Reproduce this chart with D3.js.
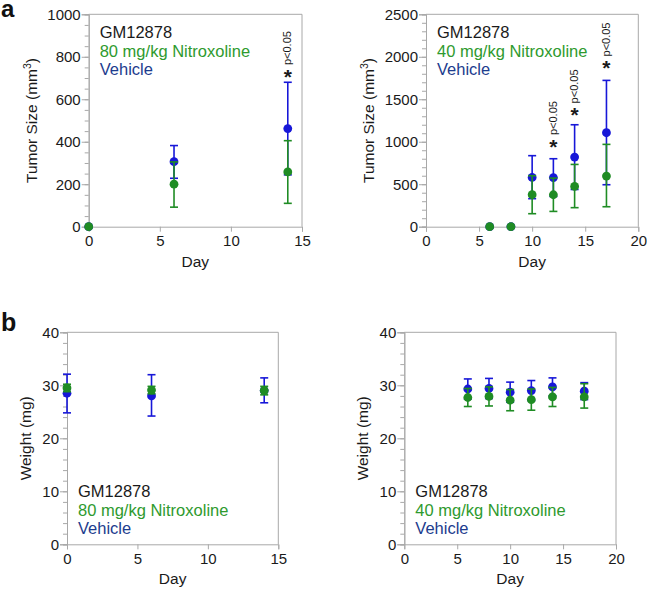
<!DOCTYPE html>
<html>
<head>
<meta charset="utf-8">
<script src="https://cdn.jsdelivr.net/npm/d3@7"></script>
<style>
  body { margin: 0; background: #fff; }
  svg { font-family: "Liberation Sans", Arial, sans-serif; }
</style>
</head>
<body>
<div id="chart"></div>
<script>
// ---- data ----
// a, left: 80 mg/kg, tumor size
const tumorDays80 = [0, 6, 14];
const vehTumor80 = [0, 306, 462];
const vehTumor80Lo = [0, 228, 244];
const vehTumor80Hi = [0, 382, 680];
const nitTumor80 = [0, 200, 258];
const nitTumor80Lo = [0, 92, 110];
const nitTumor80Hi = [0, 305, 405];
const starDays80 = [14];
const starVals80 = [728];

// a, right: 40 mg/kg, tumor size
const tumorDays40 = [6, 8, 10, 12, 14, 17];
const vehTumor40 = [0, 0, 580, 578, 819, 1106];
const vehTumor40Lo = [0, 0, 330, 356, 438, 494];
const vehTumor40Hi = [0, 0, 836, 800, 1200, 1722];
const nitTumor40 = [0, 0, 377, 376, 474, 596];
const nitTumor40Lo = [0, 0, 153, 180, 224, 235];
const nitTumor40Hi = [0, 0, 600, 572, 733, 969];
const starDays40 = [12, 14, 17];
const starVals40 = [996, 1369, 1921];

// b, left: 80 mg/kg, weight
const weightDays80 = [0, 6, 14];
const vehWeight80 = [28.5, 28.0, 29.0];
const vehWeight80Lo = [24.8, 24.2, 26.7];
const vehWeight80Hi = [32.1, 32.0, 31.4];
const nitWeight80 = [29.5, 29.1, 29.0];
const nitWeight80Lo = [28.8, 28.4, 28.2];
const nitWeight80Hi = [30.2, 29.8, 29.8];

// b, right: 40 mg/kg, weight
const weightDays40 = [6, 8, 10, 12, 14, 17];
const vehWeight40 = [29.3, 29.4, 28.7, 29.0, 29.7, 28.9];
const vehWeight40Lo = [27.4, 27.5, 26.8, 27.1, 28.0, 27.3];
const vehWeight40Hi = [31.2, 31.3, 30.6, 30.9, 31.4, 30.5];
const nitWeight40 = [27.7, 27.9, 27.2, 27.3, 27.8, 27.8];
const nitWeight40Lo = [26.0, 26.1, 25.2, 25.3, 26.0, 25.7];
const nitWeight40Hi = [29.4, 29.7, 29.2, 29.3, 29.6, 30.3];

const legendLines80 = ["GM12878", "80 mg/kg Nitroxoline", "Vehicle"];
const legendLines40 = ["GM12878", "40 mg/kg Nitroxoline", "Vehicle"];

const blue = "#1717d8",
    green = "#1f8c24",
    axisGrey = "#a8a8a8",
    textCol = "#1a1a1a",
    legendCols = [textCol, "#2e9a2e", "#1d3c8e"];

let svg = d3.select("#chart").append("svg")
    .attr("width", 647)
    .attr("height", 590);

function zip(days, mean, lo, hi) {
    return days.map(function (d, i) {
        return { day: d, v: mean[i], lo: lo[i], hi: hi[i] };
    });
}

function panel(opt) {
    let g = svg.append("g");
    let x = d3.scaleLinear().domain(opt.xDomain).range([opt.left, opt.right]);
    let y = d3.scaleLinear().domain(opt.yDomain).range([opt.bottom, opt.top]);

    // frame top + right
    g.append("path")
        .attr("d", "M" + opt.left + "," + opt.top + "H" + opt.right + "V" + opt.bottom)
        .attr("fill", "none")
        .attr("stroke", axisGrey);

    // y axis: minor ticks then major
    let yMinor = d3.axisLeft(y)
        .tickValues(d3.range(opt.yDomain[0], opt.yDomain[1] + 0.001, opt.yMinor))
        .tickSize(4).tickFormat("");
    g.append("g").attr("transform", "translate(" + opt.left + ",0)").call(yMinor);

    let yAxis = d3.axisLeft(y)
        .tickValues(d3.range(opt.yDomain[0], opt.yDomain[1] + 0.001, opt.yMajor))
        .tickFormat(d3.format("d"))
        .tickSize(7).tickPadding(1);
    g.append("g").attr("transform", "translate(" + opt.left + ",0)").call(yAxis);

    let xAxis = d3.axisBottom(x)
        .tickValues(d3.range(opt.xDomain[0], opt.xDomain[1] + 0.001, 5))
        .tickFormat(d3.format("d"))
        .tickSize(5).tickPadding(4);
    g.append("g").attr("transform", "translate(0," + opt.bottom + ")").call(xAxis);

    g.selectAll(".domain, .tick line").attr("stroke", axisGrey);
    g.selectAll(".tick text")
        .attr("font-size", "15px")
        .attr("fill", textCol)
        .attr("font-family", "Liberation Sans, Arial, sans-serif");

    // axis titles
    g.append("text")
        .attr("x", (opt.left + opt.right) / 2)
        .attr("y", opt.bottom + 40)
        .attr("text-anchor", "middle")
        .attr("font-size", "15.5px")
        .attr("fill", textCol)
        .text("Day");

    let yt = g.append("text")
        .attr("transform", "translate(" + (opt.left - opt.yTitleOff) + "," + ((opt.top + opt.bottom) / 2) + ") rotate(-90)")
        .attr("text-anchor", "middle")
        .attr("font-size", "15.5px")
        .attr("fill", textCol);
    yt.append("tspan").text(opt.yTitle);
    if (opt.yTitleSup) {
        yt.append("tspan").attr("dy", -6).attr("font-size", "10.5px").text(opt.yTitleSup);
        yt.append("tspan").attr("dy", 6).text(")");
    }

    // legend
    opt.legend.forEach(function (t, i) {
        g.append("text")
            .attr("x", opt.left + 11)
            .attr("y", opt.legendY + i * 18.5)
            .attr("font-size", "16.5px")
            .attr("fill", legendCols[i])
            .text(t);
    });

    // series: vehicle first, nitroxoline on top
    [[opt.vehicle, blue], [opt.drug, green]].forEach(function (s) {
        let data = s[0], col = s[1];
        let bars = g.append("g").selectAll("g")
            .data(data.filter(function (d) { return d.hi > d.lo; }))
            .enter().append("g");
        bars.append("line")
            .attr("x1", function (d) { return x(d.day); })
            .attr("x2", function (d) { return x(d.day); })
            .attr("y1", function (d) { return y(d.lo); })
            .attr("y2", function (d) { return y(d.hi); })
            .attr("stroke", col).attr("stroke-width", 1.6);
        ["lo", "hi"].forEach(function (k) {
            bars.append("line")
                .attr("x1", function (d) { return x(d.day) - 4; })
                .attr("x2", function (d) { return x(d.day) + 4; })
                .attr("y1", function (d) { return y(d[k]); })
                .attr("y2", function (d) { return y(d[k]); })
                .attr("stroke", col).attr("stroke-width", 1.6);
        });
        g.append("g").selectAll("circle")
            .data(data)
            .enter().append("circle")
            .attr("cx", function (d) { return x(d.day); })
            .attr("cy", function (d) { return y(d.v); })
            .attr("r", 4.4)
            .attr("fill", col);
    });

    // significance marks
    if (opt.starDays) {
        opt.starDays.forEach(function (d, i) {
            let sx = x(d), sy = y(opt.starVals[i]);
            g.append("text")
                .attr("x", sx)
                .attr("y", sy + 12)
                .attr("text-anchor", "middle")
                .attr("font-size", "21px")
                .attr("font-weight", "bold")
                .attr("fill", textCol)
                .text("*");
            g.append("text")
                .attr("transform", "translate(" + sx + "," + (sy - 7) + ") rotate(-90)")
                .attr("dy", "0.3em")
                .attr("font-size", "11px")
                .attr("fill", textCol)
                .text("p<0.05");
        });
    }
}

// panel letters
svg.append("text").attr("x", 1).attr("y", 17).attr("font-size", "24px")
    .attr("font-weight", "bold").attr("fill", "#111").text("a");
svg.append("text").attr("x", 1).attr("y", 331).attr("font-size", "25px")
    .attr("font-weight", "bold").attr("fill", "#111").text("b");

panel({
    left: 88.7, right: 302, top: 14.3, bottom: 226.7,
    xDomain: [0, 15], yDomain: [0, 1000], yMajor: 200, yMinor: 50,
    yTitle: "Tumor Size (mm", yTitleSup: "3", yTitleOff: 52,
    legend: legendLines80, legendY: 38,
    vehicle: zip(tumorDays80, vehTumor80, vehTumor80Lo, vehTumor80Hi),
    drug: zip(tumorDays80, nitTumor80, nitTumor80Lo, nitTumor80Hi),
    starDays: starDays80, starVals: starVals80
});

panel({
    left: 426, right: 638.3, top: 14.3, bottom: 226.7,
    xDomain: [0, 20], yDomain: [0, 2500], yMajor: 500, yMinor: 100,
    yTitle: "Tumor Size (mm", yTitleSup: "3", yTitleOff: 52,
    legend: legendLines40, legendY: 38,
    vehicle: zip(tumorDays40, vehTumor40, vehTumor40Lo, vehTumor40Hi),
    drug: zip(tumorDays40, nitTumor40, nitTumor40Lo, nitTumor40Hi),
    starDays: starDays40, starVals: starVals40
});

panel({
    left: 67, right: 278.3, top: 332.3, bottom: 544.3,
    xDomain: [0, 15], yDomain: [0, 40], yMajor: 10, yMinor: 2,
    yTitle: "Weight (mg)", yTitleOff: 36,
    legend: legendLines80, legendY: 497,
    vehicle: zip(weightDays80, vehWeight80, vehWeight80Lo, vehWeight80Hi),
    drug: zip(weightDays80, nitWeight80, nitWeight80Lo, nitWeight80Hi)
});

panel({
    left: 404.3, right: 616, top: 332.3, bottom: 544.3,
    xDomain: [0, 20], yDomain: [0, 40], yMajor: 10, yMinor: 2,
    yTitle: "Weight (mg)", yTitleOff: 36,
    legend: legendLines40, legendY: 497,
    vehicle: zip(weightDays40, vehWeight40, vehWeight40Lo, vehWeight40Hi),
    drug: zip(weightDays40, nitWeight40, nitWeight40Lo, nitWeight40Hi)
});
</script>
</body>
</html>
